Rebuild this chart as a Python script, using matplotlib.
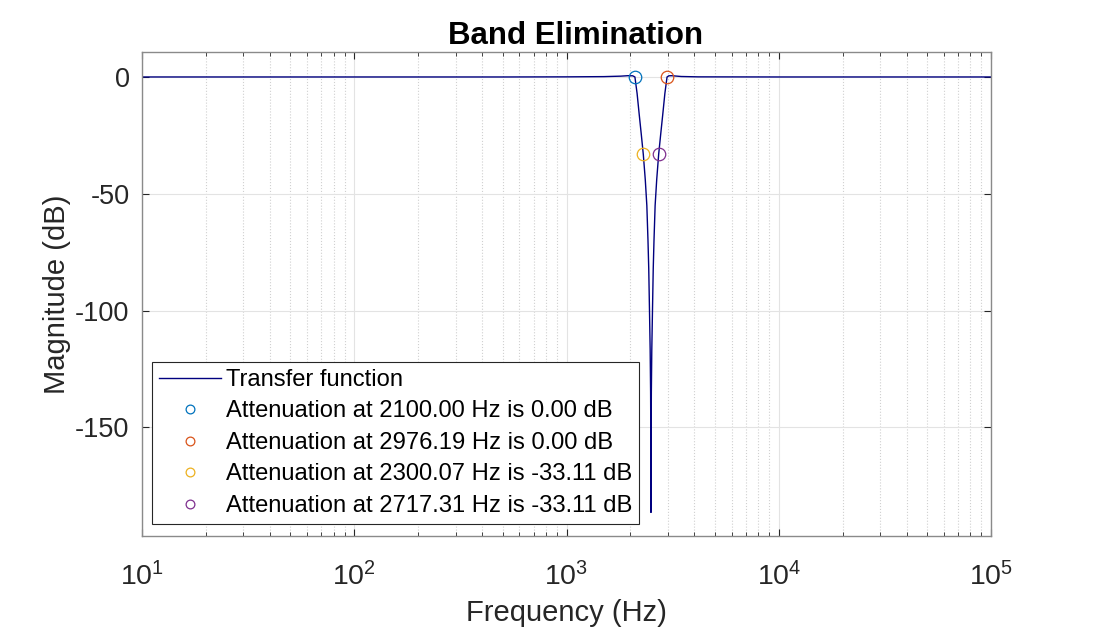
import numpy as np
import matplotlib
matplotlib.use("Agg")
import matplotlib.pyplot as plt
from matplotlib.ticker import LogLocator, NullFormatter

plt.rcParams['font.family'] = ['Liberation Sans', 'DejaVu Sans']
plt.rcParams['mathtext.default'] = 'regular'
plt.rcParams['axes.unicode_minus'] = False

# transfer function magnitude (Hz, dB)
freq = [10, 100, 500, 1000, 1500, 1800, 1950, 2050, 2100, 2150, 2200, 2250,
        2300.07, 2350, 2390, 2420, 2440, 2460, 2478, 2490, 2497, 2500,
        2503, 2510, 2522, 2541, 2562, 2583, 2615, 2660, 2717.31, 2778, 2841,
        2907, 2976.19, 3034, 3125, 3470, 4170, 10000, 100000]
mag_db = [0, 0, 0, 0.05, 0.15, 0.35, 0.55, 0.5, 0.0, -7, -16, -24.5,
          -33.11, -44, -55, -70, -82, -100, -117, -135, -160, -186.4,
          -160, -135, -117, -100, -82, -70, -55, -44, -33.11, -24.5, -16,
          -7, 0.0, 0.5, 0.55, 0.2, 0.05, 0, 0]

# marked points
mark_f = [2100.00, 2976.19, 2300.07, 2717.31]
mark_db = [0.00, 0.00, -33.11, -33.11]
mark_colors = ['#0072BD', '#D95319', '#EDB120', '#7E2F8E']

fig = plt.figure(figsize=(10.96, 6.3), dpi=100)
ax = fig.add_axes([0.1296, 0.1492, 0.7746, 0.7683])

ax.semilogx(freq, mag_db, color='#00007f', linewidth=1.0, label='Transfer function')
for f, d, c in zip(mark_f, mark_db, mark_colors):
    ax.plot(f, d, 'o', markerfacecolor='none', markeredgecolor=c,
            markersize=9, markeredgewidth=0.9,
            label='Attenuation at {:.2f} Hz is {:.2f} dB'.format(f, d))

ax.set_xlim(10, 1e5)
ax.set_ylim(-196.5, 10.7)
ax.set_yticks([0, -50, -100, -150])
ax.xaxis.set_major_locator(LogLocator(base=10, numticks=10))
ax.xaxis.set_minor_locator(LogLocator(base=10, subs=np.arange(2, 10), numticks=100))
ax.xaxis.set_minor_formatter(NullFormatter())

ax.grid(True, which='major', color='#e3e3e3', linewidth=0.8)
ax.grid(True, which='minor', axis='x', color='#d0d0d0', linestyle=':', linewidth=0.8)
ax.set_axisbelow(True)

for s in ax.spines.values():
    s.set_color('#8a8a8a')
    s.set_linewidth(1.0)
ax.tick_params(which='both', direction='in', top=True, right=True, color='#262626',
               labelcolor='#262626', labelsize=19.5)
ax.tick_params(which='major', length=5)
ax.tick_params(which='minor', length=3)
ax.tick_params(axis='x', pad=19, labelsize=20.5)
ax.tick_params(axis='y', pad=9)

ax.set_title('Band Elimination', fontsize=22.5, fontweight='bold', pad=6, x=0.511)
ax.set_xlabel('Frequency (Hz)', fontsize=21, color='#262626', labelpad=5)
ax.set_ylabel('Magnitude (dB)', fontsize=21, color='#262626', labelpad=3)

leg = ax.legend(loc='lower left', bbox_to_anchor=(0.0118, 0.0248), borderaxespad=0,
                fontsize=17.1, fancybox=False, framealpha=1, edgecolor='#262626',
                handlelength=2.6, handletextpad=0.2, labelspacing=0.4,
                borderpad=0.3, markerscale=0.7)
leg.get_frame().set_linewidth(0.8)

fig.savefig('out.png', dpi=100)
